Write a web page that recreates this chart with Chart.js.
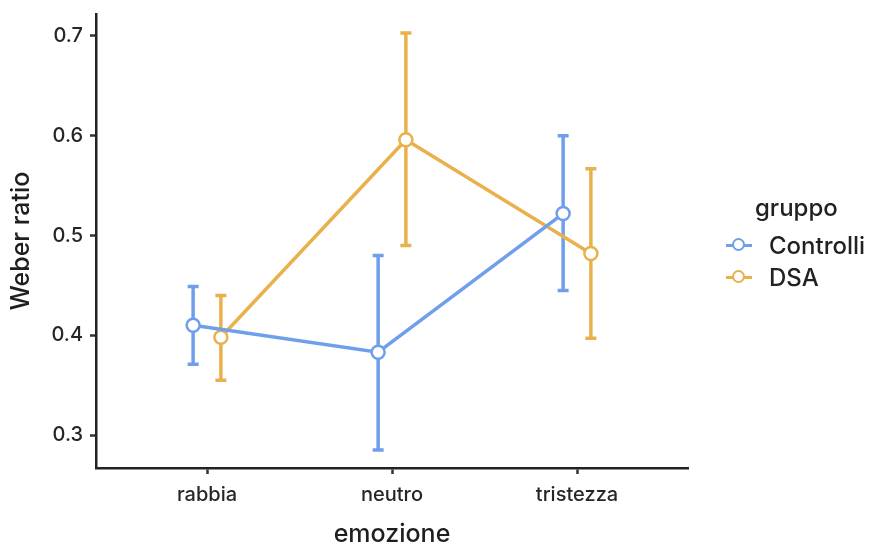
<!DOCTYPE html>
<html>
<head>
<meta charset="utf-8">
<script src="https://cdn.jsdelivr.net/npm/chart.js@4.4.0/dist/chart.umd.min.js"></script>
<style>
  body { margin: 0; background: #fff; }
  #wrap { position: relative; width: 870px; height: 545px; }
  .legend { position: absolute; left: 726px; top: 193px; font-family: Inter, "Liberation Sans", sans-serif; font-weight: 500; color: #222; }
  .legend .title { font-size: 24px; margin-left: 29px; height: 36px; }
  .legend .item { display: flex; align-items: center; height: 32px; font-size: 24px; }
  .legend .key { position: relative; width: 26px; height: 14px; margin-right: 17px; }
  .legend .key .ln { position: absolute; left: 0; right: 0; top: 5.5px; height: 3px; }
  .legend .key .pt { position: absolute; left: 6px; top: 0; width: 9px; height: 9px; border-radius: 50%; background: #fff; border: 2.5px solid; }
</style>
</head>
<body>
<div id="wrap">
  <canvas id="chart" width="870" height="545"></canvas>
  <div class="legend">
    <div class="title">gruppo</div>
    <div class="item"><span class="key"><span class="ln" style="background:#6f9fea"></span><span class="pt" style="border-color:#6f9fea"></span></span>Controlli</div>
    <div class="item"><span class="key"><span class="ln" style="background:#e9b14c"></span><span class="pt" style="border-color:#e9b14c"></span></span>DSA</div>
  </div>
</div>
<script>
// data
const categories = ['rabbia', 'neutro', 'tristezza'];
const controlliMean = [0.410, 0.383, 0.522];
const controlliLow  = [0.371, 0.285, 0.445];
const controlliHigh = [0.449, 0.480, 0.600];
const dsaMean = [0.398, 0.596, 0.482];
const dsaLow  = [0.355, 0.490, 0.397];
const dsaHigh = [0.440, 0.703, 0.567];
const yTicks = [0.3, 0.4, 0.5, 0.6, 0.7];

const BLUE = '#6f9fea';
const ORANGE = '#e9b14c';
const DODGE = 0.075; // position_dodge, in category units
const FONT = 'Inter, "Liberation Sans", sans-serif';

function makePoints(mean, low, high, shift) {
  return categories.map((c, i) => ({ x: i + 1 + shift, y: mean[i], lo: low[i], hi: high[i] }));
}

// error bars drawn under the lines/points
const errorBars = {
  id: 'errorBars',
  beforeDatasetsDraw(chart) {
    const { ctx, scales: { x, y } } = chart;
    chart.data.datasets.forEach(ds => {
      ctx.save();
      ctx.strokeStyle = ds.borderColor;
      ctx.lineWidth = 3.5;
      ds.data.forEach(p => {
        const px = x.getPixelForValue(p.x);
        const top = y.getPixelForValue(p.hi);
        const bot = y.getPixelForValue(p.lo);
        ctx.beginPath();
        ctx.moveTo(px, top); ctx.lineTo(px, bot);
        ctx.moveTo(px - 5.5, top); ctx.lineTo(px + 5.5, top);
        ctx.moveTo(px - 5.5, bot); ctx.lineTo(px + 5.5, bot);
        ctx.stroke();
      });
      ctx.restore();
    });
  }
};

const axisGrid = { drawOnChartArea: false, drawTicks: true, tickLength: 6, tickColor: '#333', tickWidth: 2.5 };
const axisBorder = { color: '#222', width: 2.5 };

new Chart(document.getElementById('chart').getContext('2d'), {
  type: 'line',
  data: {
    datasets: [
      {
        label: 'Controlli',
        data: makePoints(controlliMean, controlliLow, controlliHigh, -DODGE),
        borderColor: BLUE, backgroundColor: '#fff',
        borderWidth: 3.5, pointRadius: 6.5, pointBorderWidth: 2.5,
        pointBackgroundColor: '#fff', pointBorderColor: BLUE, tension: 0
      },
      {
        label: 'DSA',
        data: makePoints(dsaMean, dsaLow, dsaHigh, DODGE),
        borderColor: ORANGE, backgroundColor: '#fff',
        borderWidth: 3.5, pointRadius: 6.5, pointBorderWidth: 2.5,
        pointBackgroundColor: '#fff', pointBorderColor: ORANGE, tension: 0
      }
    ]
  },
  options: {
    responsive: false,
    animation: false,
    layout: { padding: { top: 14, right: 182, left: 0, bottom: 0 } },
    plugins: { legend: { display: false }, tooltip: { enabled: false } },
    scales: {
      x: {
        type: 'linear', min: 0.4, max: 3.6,
        afterBuildTicks: s => { s.ticks = categories.map((c, i) => ({ value: i + 1 })); },
        afterFit: s => { s.height = 77; s.paddingLeft = 0; s.paddingRight = 0; },
        grid: axisGrid, border: axisBorder,
        ticks: {
          callback: v => categories[Math.round(v) - 1],
          font: { family: FONT, size: 20, weight: 500 }, color: '#262626', padding: 9, maxRotation: 0
        },
        title: { display: true, text: 'emozione', font: { family: FONT, size: 25, weight: 500, lineHeight: 1 }, color: '#1e1e1e', padding: { top: 12, bottom: -2 } }
      },
      y: {
        type: 'linear', min: 0.267, max: 0.722,
        afterBuildTicks: s => { s.ticks = yTicks.map(v => ({ value: v })); },
        afterFit: s => { s.width = 96; s.paddingTop = 0; s.paddingBottom = 0; },
        grid: axisGrid, border: axisBorder,
        ticks: {
          callback: v => v.toFixed(1),
          font: { family: FONT, size: 20, weight: 500 }, color: '#262626', padding: 7
        },
        title: { display: true, text: 'Weber ratio', font: { family: FONT, size: 25, weight: 500 }, color: '#1e1e1e', padding: { top: 6, bottom: 2 } }
      }
    }
  },
  plugins: [errorBars]
});
</script>
</body>
</html>
